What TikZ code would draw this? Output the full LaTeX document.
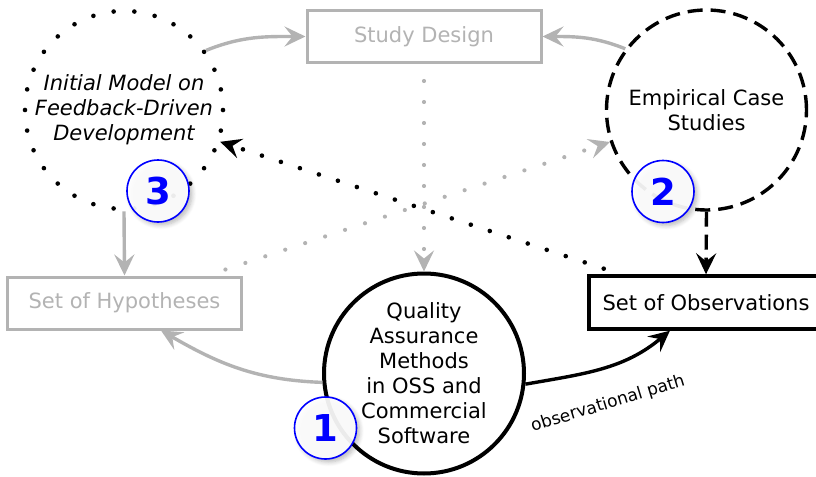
\documentclass[tikz,border=0pt]{standalone}
\usepackage{fontspec}
\setmainfont{DejaVu Sans}
\usetikzlibrary{arrows.meta,shadows.blur}
\definecolor{lightline}{RGB}{179,179,179}
\definecolor{badgeblue}{RGB}{0,0,255}

\begin{document}
\begin{tikzpicture}[x=0.5pt,y=0.5pt,
  every node/.style={font=\fontsize{10.5}{12.5}\selectfont},
  >={Stealth[length=10.5pt,width=10pt,inset=4pt]},
  graybox/.style={draw=lightline, line width=1.5pt, text=lightline, fill=white,
    minimum width=117pt, minimum height=26pt, inner sep=0pt},
  blackbox/.style={draw=black, line width=1.7pt, fill=white,
    minimum width=117pt, minimum height=26.5pt, inner sep=0pt},
  bigcircle/.style={circle, inner sep=0pt, minimum size=100pt, align=center},
  grayline/.style={draw=lightline, line width=1.7pt},
  blackline/.style={draw=black, line width=1.7pt},
  graydots/.style={draw=lightline, line width=2.1pt, line cap=round,
    dash pattern=on 0pt off 10.5pt},
  blackdots/.style={draw=black, line width=2.3pt, line cap=round,
    dash pattern=on 0pt off 10pt},
  blackdash/.style={draw=black, line width=1.7pt, dash pattern=on 7.5pt off 4pt},
  badge/.style={circle, draw=badgeblue, line width=0.8pt, fill=white,
    fill opacity=0.92, text opacity=1, minimum size=31pt, inner sep=0pt,
    text=badgeblue, font=\fontsize{18.5}{20}\selectfont\bfseries,
    blur shadow={shadow xshift=1.5pt, shadow yshift=-1.5pt,
      shadow blur steps=6, shadow opacity=30}}
]
\useasboundingbox (0,0) rectangle (816,-477);

% main elements
\node[graybox] (sd) at (424,-36.5) {Study Design};
\node[graybox] (hyp) at (124.5,-303) {Set of Hypotheses};
\node[blackbox] (obs) at (706,-302.5) {Set of Observations};

\node[bigcircle, draw=black, line width=2pt] (q) at (424,-373.5)
  {Quality\\Assurance\\Methods\\in OSS and\\Commercial\\Software};
\node[bigcircle, draw=black, line width=1.7pt,
  dash pattern=on 7.5pt off 4pt] (ec) at (706.5,-110) {Empirical Case\\Studies};
\node[bigcircle, minimum size=99pt, draw=black, line width=2.3pt, line cap=round,
  dash pattern=on 0pt off 10.367pt] (im) at (124,-110)
  {\itshape Initial Model on\\\itshape Feedback-Driven\\\itshape Development};

% connectors
\draw[grayline, ->] (im.36) to[out=22,in=180] (sd.west);
\draw[grayline, ->] (ec.143) to[out=158,in=0] (sd.east);
\draw[grayline, ->] (im.south) -- (hyp.north);
\draw[graydots, ->, shorten <=8.5pt] (sd.south) -- (q.north);
\draw[graydots, ->, shorten <=9.5pt] (hyp) -- (ec);
\draw[blackdots, ->, shorten <=9pt] (obs) -- (im);
\draw[grayline, ->] (q.185) to[out=178,in=-30] (hyp.-37);
\draw[blackline, ->] (q.-6) to[out=10,in=-140] (obs.-142);
\draw[blackdash, ->] (ec.south) -- (obs.north);

\node[rotate=17, font=\fontsize{8.5}{10}\selectfont] (lbl) at (608,-404)
  {observational path};

% numbered badges
\node[badge] (b1) at (325.5,-428) {1};
\node[badge] (b2) at (663,-191.5) {2};
\node[badge] (b3) at (158,-191) {3};
\end{tikzpicture}
\end{document}
